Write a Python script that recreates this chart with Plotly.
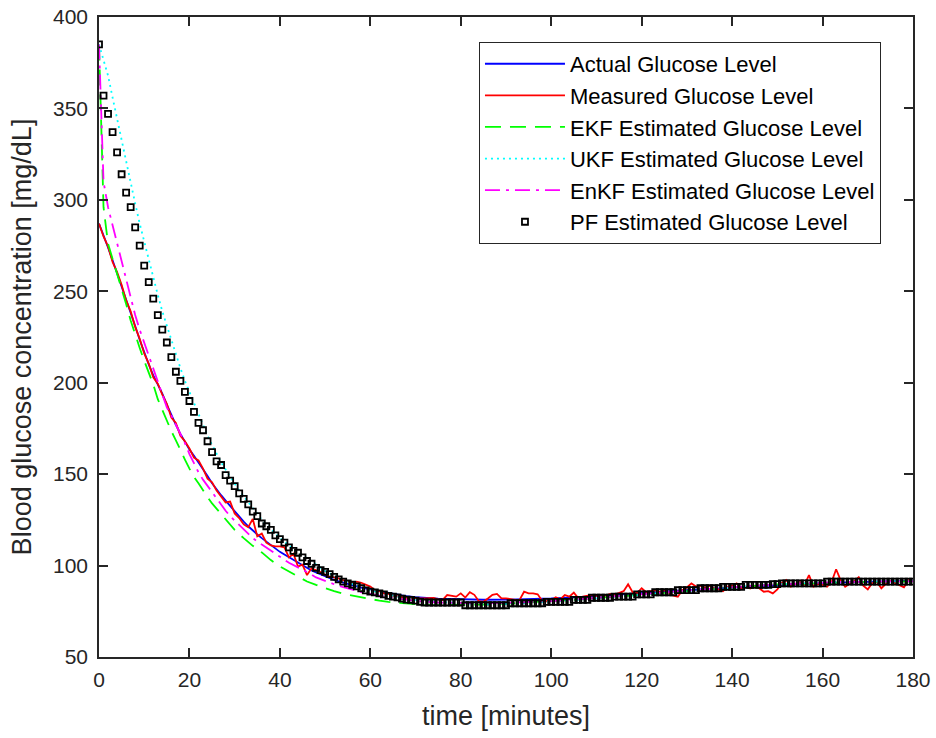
import plotly.graph_objects as go

# ---------------- data ----------------
t_min = list(range(0, 181))

actual_t = list(range(0, 71)) + list(range(75, 181, 5))
actual_v = [287, 281, 274, 267, 260, 253, 246, 238.5, 231, 223.5,
            216.5, 210, 204, 199, 194, 188, 182, 177, 172, 167.5,
            163.5, 160, 156.5, 153, 149, 145, 141.5, 138.5, 135.5, 132.5,
            129.5, 126.5, 124, 121.5, 119, 117, 115, 113, 111.5, 109.5,
            107.5, 106, 104.5, 103, 101.5, 100, 98.5, 97.3, 96.2, 95.1,
            94.1, 93.1, 92.2, 91.4, 90.6, 89.9, 89.2, 88.6, 88, 87.5,
            87, 86.4, 85.8, 85.3, 84.9, 84.5, 84.1, 83.7, 83.3, 83, 82.7,
            81.9, 81.4, 81.3, 81.4, 81.6, 82, 82.6, 83.3, 84.1, 84.9,
            85.7, 86.5, 87.3, 88, 88.7, 89.3, 89.9, 90.4, 90.8, 91.2, 91.5, 91.7]

measured_v = [287, 280, 274.5, 266, 260.5, 253.5, 245, 239, 230.5, 224,
              216, 210.5, 203, 199.5, 193.5, 188.5, 181, 178, 171, 168,
              164, 159, 157.5, 153, 147.5, 145.5, 141, 137.5, 134.5, 135,
              128.5, 126, 122.5, 121, 125.5, 116, 117.5, 112.5, 111, 110.5,
              110.5, 110, 104.5, 106.5, 99.5, 100.5, 94.8, 98.5, 97.5, 96.5,
              95, 94, 93.5, 93, 92, 91.5, 90.3, 91.2, 90.6, 89.4,
              88.5, 86.5, 86, 84.8, 84.5, 83.5, 83, 82.5, 82.3, 82,
              82.2, 82, 82.1, 82, 82.3, 81.5, 81.2, 83.9, 83.5, 83,
              84.8, 82.5, 85.4, 84, 80.5, 80.2, 82, 84, 84.5, 82.1,
              82.1, 81.5, 81.2, 81.2, 85.7, 84.8, 84.8, 84.3, 80.8, 80.5,
              81, 82.6, 81.5, 83.9, 83, 85.2, 82.1, 83, 83.5, 83.9,
              83.5, 84, 83.5, 84.5, 84, 85, 86, 89.8, 85.5, 85,
              87.6, 85.5, 86, 86.5, 85.5, 86.5, 85, 83.5, 83, 86.5,
              88, 90.3, 88.5, 89, 88, 89, 87.5, 87, 86, 88.5,
              89, 90.3, 87.5, 88.5, 87.5, 89, 87.6, 85.7, 86, 84.8,
              87, 90.5, 92.1, 88.4, 90, 91, 89.5, 94.8, 88.5, 90,
              89.5, 88.4, 91, 98, 92, 88.4, 90, 91.5, 93.6, 89,
              87, 90.5, 91.2, 87.6, 90, 91.7, 90.5, 89.5, 88.1, 92, 91.5]

ekf_t = list(range(0, 31)) + list(range(32, 73, 2)) + [75] + list(range(80, 151, 5)) + [160, 170, 180]
ekf_v = [385, 296, 276, 268, 259, 251.5, 243, 234, 226, 219,
         212, 205.5, 199, 191, 185, 179.5, 173.5, 168.5, 163, 158,
         153, 148.5, 145, 141, 137.5, 134, 131, 128, 125, 122, 119.5,
         115, 110.8, 107.2, 103, 99.5, 96.9, 94, 91.3, 89.4, 87.5,
         86, 84.6, 83.6, 82.6, 81.6, 80.8, 80.1, 79.6, 79.2, 78.8, 78.5,
         78.4,
         78.5, 78.7, 79.2, 79.8, 80.5, 81.3, 82.2, 83.2, 84.2, 85.2,
         86.2, 87.2, 88.1, 88.9, 89.7, 90.6, 91.1, 91.4]

ukf_t = list(range(0, 41)) + list(range(42, 71, 2)) + list(range(75, 151, 5)) + [160, 170, 180]
ukf_v = [385, 377, 368, 356, 344, 332, 320, 309, 298, 287,
         277, 267, 257, 248, 239, 231, 223, 216, 208, 201,
         195, 188, 182, 177, 171, 166, 161, 156.5, 152.5, 148.5,
         145, 141, 138, 134.5, 131.5, 128.5, 125, 122.5, 120, 117.5, 115,
         111, 107.5, 103.5, 100, 97, 94.5, 92, 90, 88.2, 86.5,
         85.3, 84, 83, 82, 81.2,
         80.2, 79.5, 78.8, 79, 79.5, 80.3, 81.2, 82.2, 83.2, 84.3,
         85.3, 86.3, 87.3, 88.2, 89, 89.8, 90.8, 91.3, 91.5]

enkf_t = list(range(0, 31)) + list(range(32, 71, 2)) + list(range(75, 151, 5)) + [160, 170, 180]
enkf_v = [385, 310, 296, 286, 275.5, 267, 256, 246, 237, 229,
          222, 214, 207, 200, 193, 186.5, 182, 177, 172, 167,
          161, 155.5, 151, 147, 143.5, 140, 136.5, 133, 130, 127, 124.5,
          119.5, 115, 111.5, 108, 104.5, 101.5, 99, 96.5, 93.5, 91.5,
          89.8, 88.2, 86.8, 85.5, 84.5, 83.5, 82.7, 82, 81.3, 80.7,
          79.8, 79.5, 79.4, 79.6, 80, 80.6, 81.4, 82.3, 83.2, 84.3,
          85.3, 86.3, 87.3, 88.2, 89, 89.7, 90.7, 91.2, 91.4]

pf_v = [385, 357, 347, 337, 326, 314, 304, 296, 285, 275,
        264, 255, 246, 237, 229, 222, 214, 206, 201, 195,
        190, 184, 178, 174, 168, 162, 157, 155, 149.5, 146.5,
        143.5, 139.5, 136.5, 133.5, 129.5, 127, 123, 121.5, 119.5, 116.5,
        114.5, 112.5, 110, 108, 107, 104.5, 102.5, 101, 98.7, 97.5,
        96.5, 95.3, 93.8, 92.5, 91.2, 90.3, 89.5, 88.6, 87.6, 86.4,
        85.7, 85.3, 84.8, 84.3, 83.4, 83, 82.6, 81.9, 81.4, 81.2,
        80.8, 80.2, 79.8, 79.8, 79.8, 79.8, 79.8, 79.8, 79.8, 79.8,
        79.8, 78.3, 78.3, 78.3, 78.3, 78.3, 78.3, 78.3, 78.3, 78.3,
        78.3, 79.4, 79.4, 79.4, 79.4, 79.4, 79.4, 79.4, 79.4, 80.2,
        80.2, 80.2, 80.2, 80.2, 80.2, 81.2, 81.2, 81.2, 81.2, 82.4,
        82.4, 82.4, 82.4, 82.4, 83, 83, 83, 83, 83, 84.3,
        84.3, 84.3, 84.3, 85.4, 85.4, 85.4, 85.4, 85.4, 86.6, 86.6,
        86.6, 86.6, 86.6, 87.6, 87.6, 87.6, 87.6, 87.6, 88.4, 88.4,
        88.4, 88.4, 88.4, 89.4, 89.4, 89.4, 89.4, 89.4, 89.4, 89.8,
        89.8, 90.3, 90.3, 90.3, 90.3, 90.3, 90.3, 90.3, 90.3, 90.3,
        90.3, 91.2, 91.2, 91.2, 91.2, 91.2, 91.2, 91.2, 91.2, 91.2,
        91.2, 91.2, 91.2, 91.2, 91.2, 91.2, 91.2, 91.2, 91.2, 91.2, 91.2]

x_ticks = [0, 20, 40, 60, 80, 100, 120, 140, 160, 180]
y_ticks = [50, 100, 150, 200, 250, 300, 350, 400]

# ---------------- figure ----------------
FONT = "Liberation Sans, Arial, sans-serif"
AX = "#262626"

fig = go.Figure()
fig.add_trace(go.Scatter(x=actual_t, y=actual_v, mode="lines", name="Actual Glucose Level",
                         line=dict(color="#0000FF", width=1.8), legendgroup="a"))
fig.add_trace(go.Scatter(x=t_min, y=measured_v, mode="lines", name="Measured Glucose Level",
                         line=dict(color="#FF0000", width=1.8), legendgroup="b"))
fig.add_trace(go.Scatter(x=ekf_t, y=ekf_v, mode="lines", name="EKF Estimated Glucose Level",
                         line=dict(color="#00FF00", width=1.8, dash="16px,9px"), legendgroup="c"))
fig.add_trace(go.Scatter(x=ukf_t, y=ukf_v, mode="lines", name="UKF Estimated Glucose Level",
                         line=dict(color="#00FFFF", width=1.8, dash="2px,4px"), legendgroup="d"))
fig.add_trace(go.Scatter(x=enkf_t, y=enkf_v, mode="lines", name="EnKF Estimated Glucose Level",
                         line=dict(color="#FF00FF", width=1.8, dash="15px,6px,3px,6px"), legendgroup="e"))
fig.add_trace(go.Scatter(x=t_min, y=pf_v, mode="markers", name="PF Estimated Glucose Level",
                         marker=dict(symbol="square-open", size=6, color="black",
                                     line=dict(width=1.8, color="black")), legendgroup="f"))

axis_common = dict(showline=True, linecolor=AX, linewidth=1.5, mirror="ticks",
                   ticks="inside", ticklen=9, tickwidth=1.5, tickcolor=AX,
                   showgrid=False, zeroline=False, automargin=False,
                   tickfont=dict(family=FONT, size=21, color=AX))

fig.update_xaxes(range=[0, 180], tickvals=x_ticks, ticktext=[str(v) for v in x_ticks],
                 ticklabelstandoff=3,
                 title=dict(text="time [minutes]", font=dict(family=FONT, size=27, color=AX), standoff=16),
                 **axis_common)
fig.update_yaxes(range=[50, 400], tickvals=y_ticks, ticktext=[str(v) for v in y_ticks],
                 ticklabelstandoff=5,
                 title=dict(text="Blood glucose concentration [mg/dL]", font=dict(family=FONT, size=27, color=AX),
                            standoff=14),
                 **axis_common)

fig.update_layout(
    template="none",
    width=936, height=738,
    margin=dict(l=99, r=23, t=17, b=81, pad=0),
    paper_bgcolor="white", plot_bgcolor="white",
    font=dict(family=FONT, color=AX),
    showlegend=True,
    legend=dict(x=0.4668, y=0.961, xanchor="left", yanchor="top",
                bgcolor="white", bordercolor=AX, borderwidth=1,
                font=dict(family=FONT, size=22, color="black"),
                traceorder="grouped", tracegroupgap=0, itemwidth=80),
)

fig.write_html("out.html")
